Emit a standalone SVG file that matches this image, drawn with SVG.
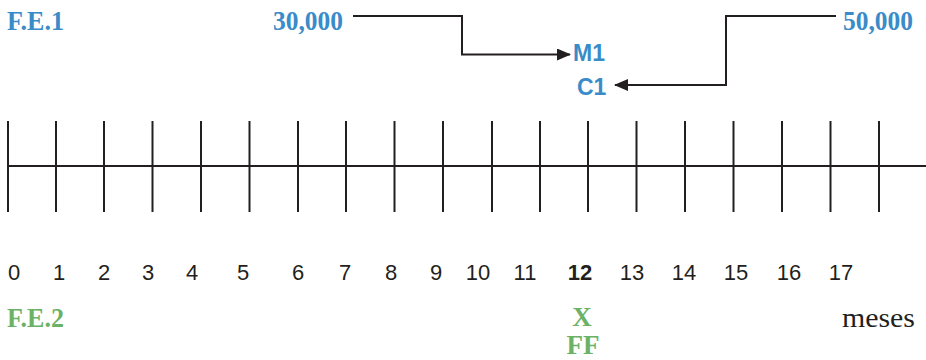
<svg xmlns="http://www.w3.org/2000/svg" width="926" height="360" viewBox="0 0 926 360">
<style>
.ser{font-family:"Liberation Serif","Times New Roman",serif;font-weight:bold;font-size:27px}
.blue{fill:#3a8cc9}
.green{fill:#6cb266}
.san{font-family:"Liberation Sans",Arial,sans-serif;font-size:22px;fill:#231f20}
.lbl{font-family:"Liberation Sans",Arial,sans-serif;font-weight:bold;font-size:23px;fill:#3a8cc9}
.ax{stroke:#231f20;stroke-width:2;fill:none}
.con{stroke:#231f20;stroke-width:2;fill:none}
</style>
<defs>
<marker id="ah" markerWidth="14" markerHeight="12" refX="13" refY="6" orient="auto" markerUnits="userSpaceOnUse">
<path d="M0,0 L14,6 L0,12 Z" fill="#231f20"/>
</marker>
</defs>
<g id="axis">
<line class="ax" x1="8" y1="166" x2="926" y2="166"/>
<path class="ax" d="M8,121V212M56,121V212M104,121V212M152.5,121V212M201,121V212M249.5,121V212M298,121V212M346,121V212M394.5,121V212M443,121V212M492,121V212M540,121V212M588,121V212M636.5,121V212M685,121V212M733.5,121V212M782,121V212M830.5,121V212M879,121V212"/>
</g>
<g id="ticks-labels" class="san" text-anchor="middle">
<text x="14" y="280">0</text>
<text x="59" y="280">1</text>
<text x="104" y="280">2</text>
<text x="148" y="280">3</text>
<text x="192" y="280">4</text>
<text x="243" y="280">5</text>
<text x="298" y="280">6</text>
<text x="345" y="280">7</text>
<text x="391" y="280">8</text>
<text x="436" y="280">9</text>
<text x="478" y="280">10</text>
<text x="525" y="280">11</text>
<text x="580" y="280" font-weight="bold">12</text>
<text x="632" y="280">13</text>
<text x="684" y="280">14</text>
<text x="736" y="280">15</text>
<text x="789" y="280">16</text>
<text x="841" y="280">17</text>
</g>
<g id="fe1"><text class="ser blue" x="7" y="30" textLength="57" lengthAdjust="spacingAndGlyphs">F.E.1</text></g>
<g id="v30000"><text class="ser blue" x="273" y="30" textLength="70" lengthAdjust="spacingAndGlyphs">30,000</text></g>
<g id="v50000"><text class="ser blue" x="843" y="30" textLength="70" lengthAdjust="spacingAndGlyphs">50,000</text></g>
<g id="m1"><text class="lbl" x="573" y="61">M1</text></g>
<g id="c1"><text class="lbl" x="577" y="95">C1</text></g>
<g id="fe2"><text class="ser green" x="7" y="327" textLength="57" lengthAdjust="spacingAndGlyphs">F.E.2</text></g>
<g id="x"><text class="ser green" x="582" y="326" text-anchor="middle" font-size="24">X</text></g>
<g id="ff"><text class="ser green" x="583" y="354" text-anchor="middle" font-size="24">FF</text></g>
<g id="meses"><text x="842" y="327" font-family="Liberation Serif,Times New Roman,serif" font-size="27" fill="#231f20" textLength="73" lengthAdjust="spacingAndGlyphs">meses</text></g>
<g id="connectors">
<path class="con" d="M353,16H462V54.5H570" marker-end="url(#ah)"/>
<path class="con" d="M836,16H726V85H615" marker-end="url(#ah)"/>
</g>
</svg>
